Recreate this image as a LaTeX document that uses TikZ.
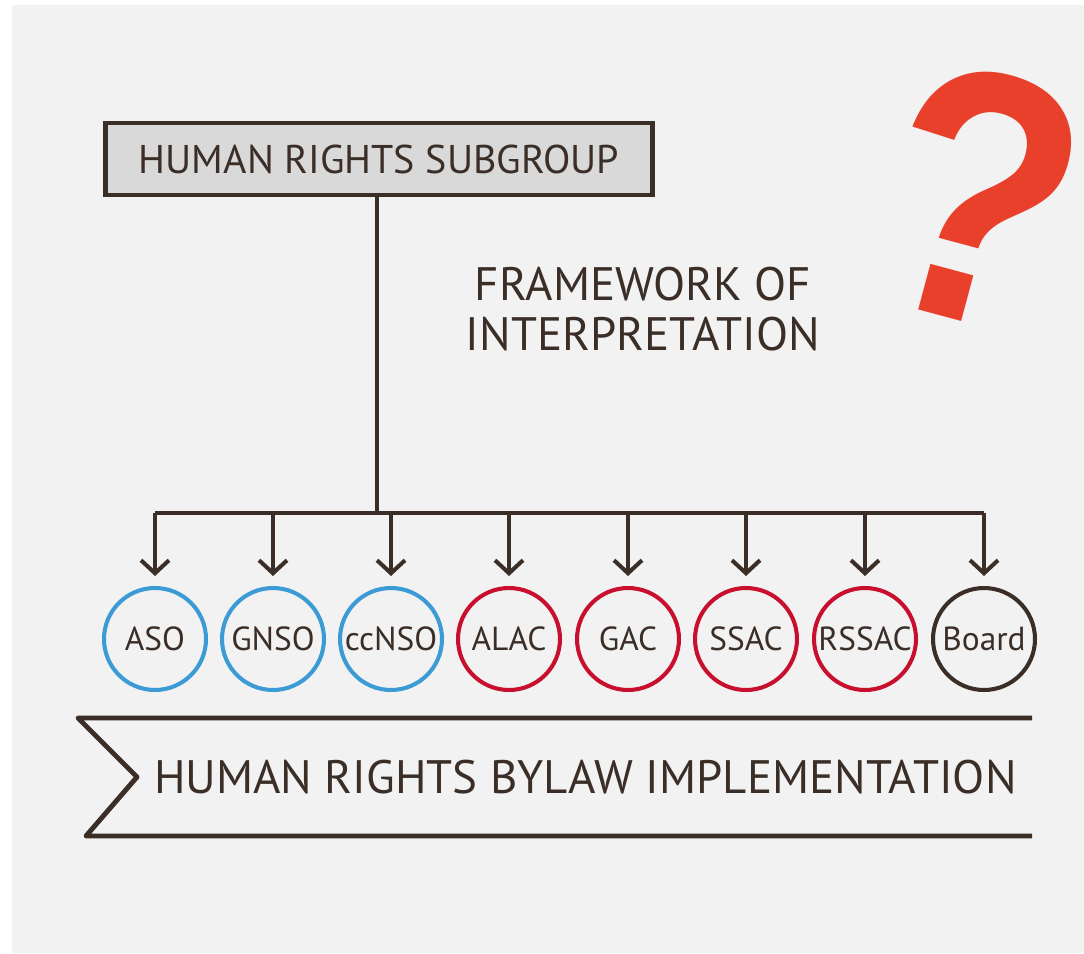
\documentclass[tikz,border=0pt]{standalone}
\usepackage{fontspec}
\setmainfont{PT Sans}
\newfontfamily\qfont{Liberation Sans}
\usetikzlibrary{arrows.meta,positioning}

\definecolor{bgrey}{HTML}{F2F2F2}
\definecolor{boxgrey}{HTML}{D9D9D9}
\definecolor{lbrown}{HTML}{3A2E27}
\definecolor{soblue}{HTML}{3C9BD5}
\definecolor{acred}{HTML}{C8102E}
\definecolor{qred}{HTML}{E8402B}

\tikzset{
  unit/.style={circle, draw, line width=2.3pt, minimum size=2.04cm, inner sep=0pt,
    text=lbrown, font=\fontsize{19}{21}\selectfont},
  branch/.style={draw=lbrown, line width=2.3pt, -{Straight Barb[length=0.26cm,width=0.56cm]}},
}

\begin{document}
\begin{tikzpicture}[x=0.02cm, y=-0.02cm]

  % Fix the size of the page
  \useasboundingbox (0,0) rectangle (1084,953);

  % Draw the grey panel
  \fill[bgrey] (12,5) rectangle (1084,953);

  % Draw the subgroup box
  \node[draw=lbrown, fill=boxgrey, line width=2.8pt, minimum width=10.96cm, minimum height=1.44cm,
    text=lbrown, font=\fontsize{22.8}{26}\selectfont] (sub) at (379,159) {HUMAN RIGHTS SUBGROUP};

  % Define the point where the trunk meets the bar
  \coordinate (J) at (377,513);

  % Draw the trunk
  \draw[lbrown, line width=2.3pt] (sub.south -| J) -- (J);

  % Add the framework label
  \node[align=center, text=lbrown, font=\fontsize{26.7}{28.5}\selectfont] (frame) at (643,309)
    {FRAMEWORK OF\\INTERPRETATION};

  % Draw the units
  \node[unit, draw=soblue] (aso) at (155,639) {ASO};
  \node[unit, draw=soblue] (gnso) at (273,639) {GNSO};
  \node[unit, draw=soblue] (ccnso) at (391,639) {ccNSO};
  \node[unit, draw=acred] (alac) at (509,639) {ALAC};
  \node[unit, draw=acred] (gac) at (628,639) {GAC};
  \node[unit, draw=acred] (ssac) at (746,639) {SSAC};
  \node[unit, draw=acred] (rssac) at (865,639) {RSSAC};
  \node[unit, draw=lbrown] (board) at (984,639) {Board};

  % Draw the bar
  \draw[lbrown, line width=2.3pt] (aso.north |- J) -- (board.north |- J);

  % Draw the arrows down to the units
  \draw[branch, shorten >=0.2cm] (aso.north |- J) -- (aso.north);
  \draw[branch, shorten >=0.2cm] (gnso.north |- J) -- (gnso.north);
  \draw[branch, shorten >=0.2cm] (ccnso.north |- J) -- (ccnso.north);
  \draw[branch, shorten >=0.2cm] (alac.north |- J) -- (alac.north);
  \draw[branch, shorten >=0.2cm] (gac.north |- J) -- (gac.north);
  \draw[branch, shorten >=0.2cm] (ssac.north |- J) -- (ssac.north);
  \draw[branch, shorten >=0.2cm] (rssac.north |- J) -- (rssac.north);
  \draw[branch, shorten >=0.2cm] (board.north |- J) -- (board.north);

  % Draw the bylaw banner
  \coordinate (TL) at (78,718);
  \coordinate (T) at (137,777);
  \coordinate (BL) at (86,836);
  \draw[lbrown, line width=2.8pt, line join=round] (1032,718) -- (TL) -- (T) -- (BL) -- (1032,836);
  \node[text=lbrown, font=\fontsize{26.7}{28}\selectfont, anchor=west] (bylaw) at (148,777)
    {HUMAN RIGHTS BYLAW IMPLEMENTATION};

  % Add the question mark
  \node[text=qred, rotate=-15, inner sep=0pt, font=\qfont\bfseries\fontsize{204}{204}\selectfont]
    (q) at (979,197) {\scalebox{0.88}[1]{?}};

\end{tikzpicture}
\end{document}
